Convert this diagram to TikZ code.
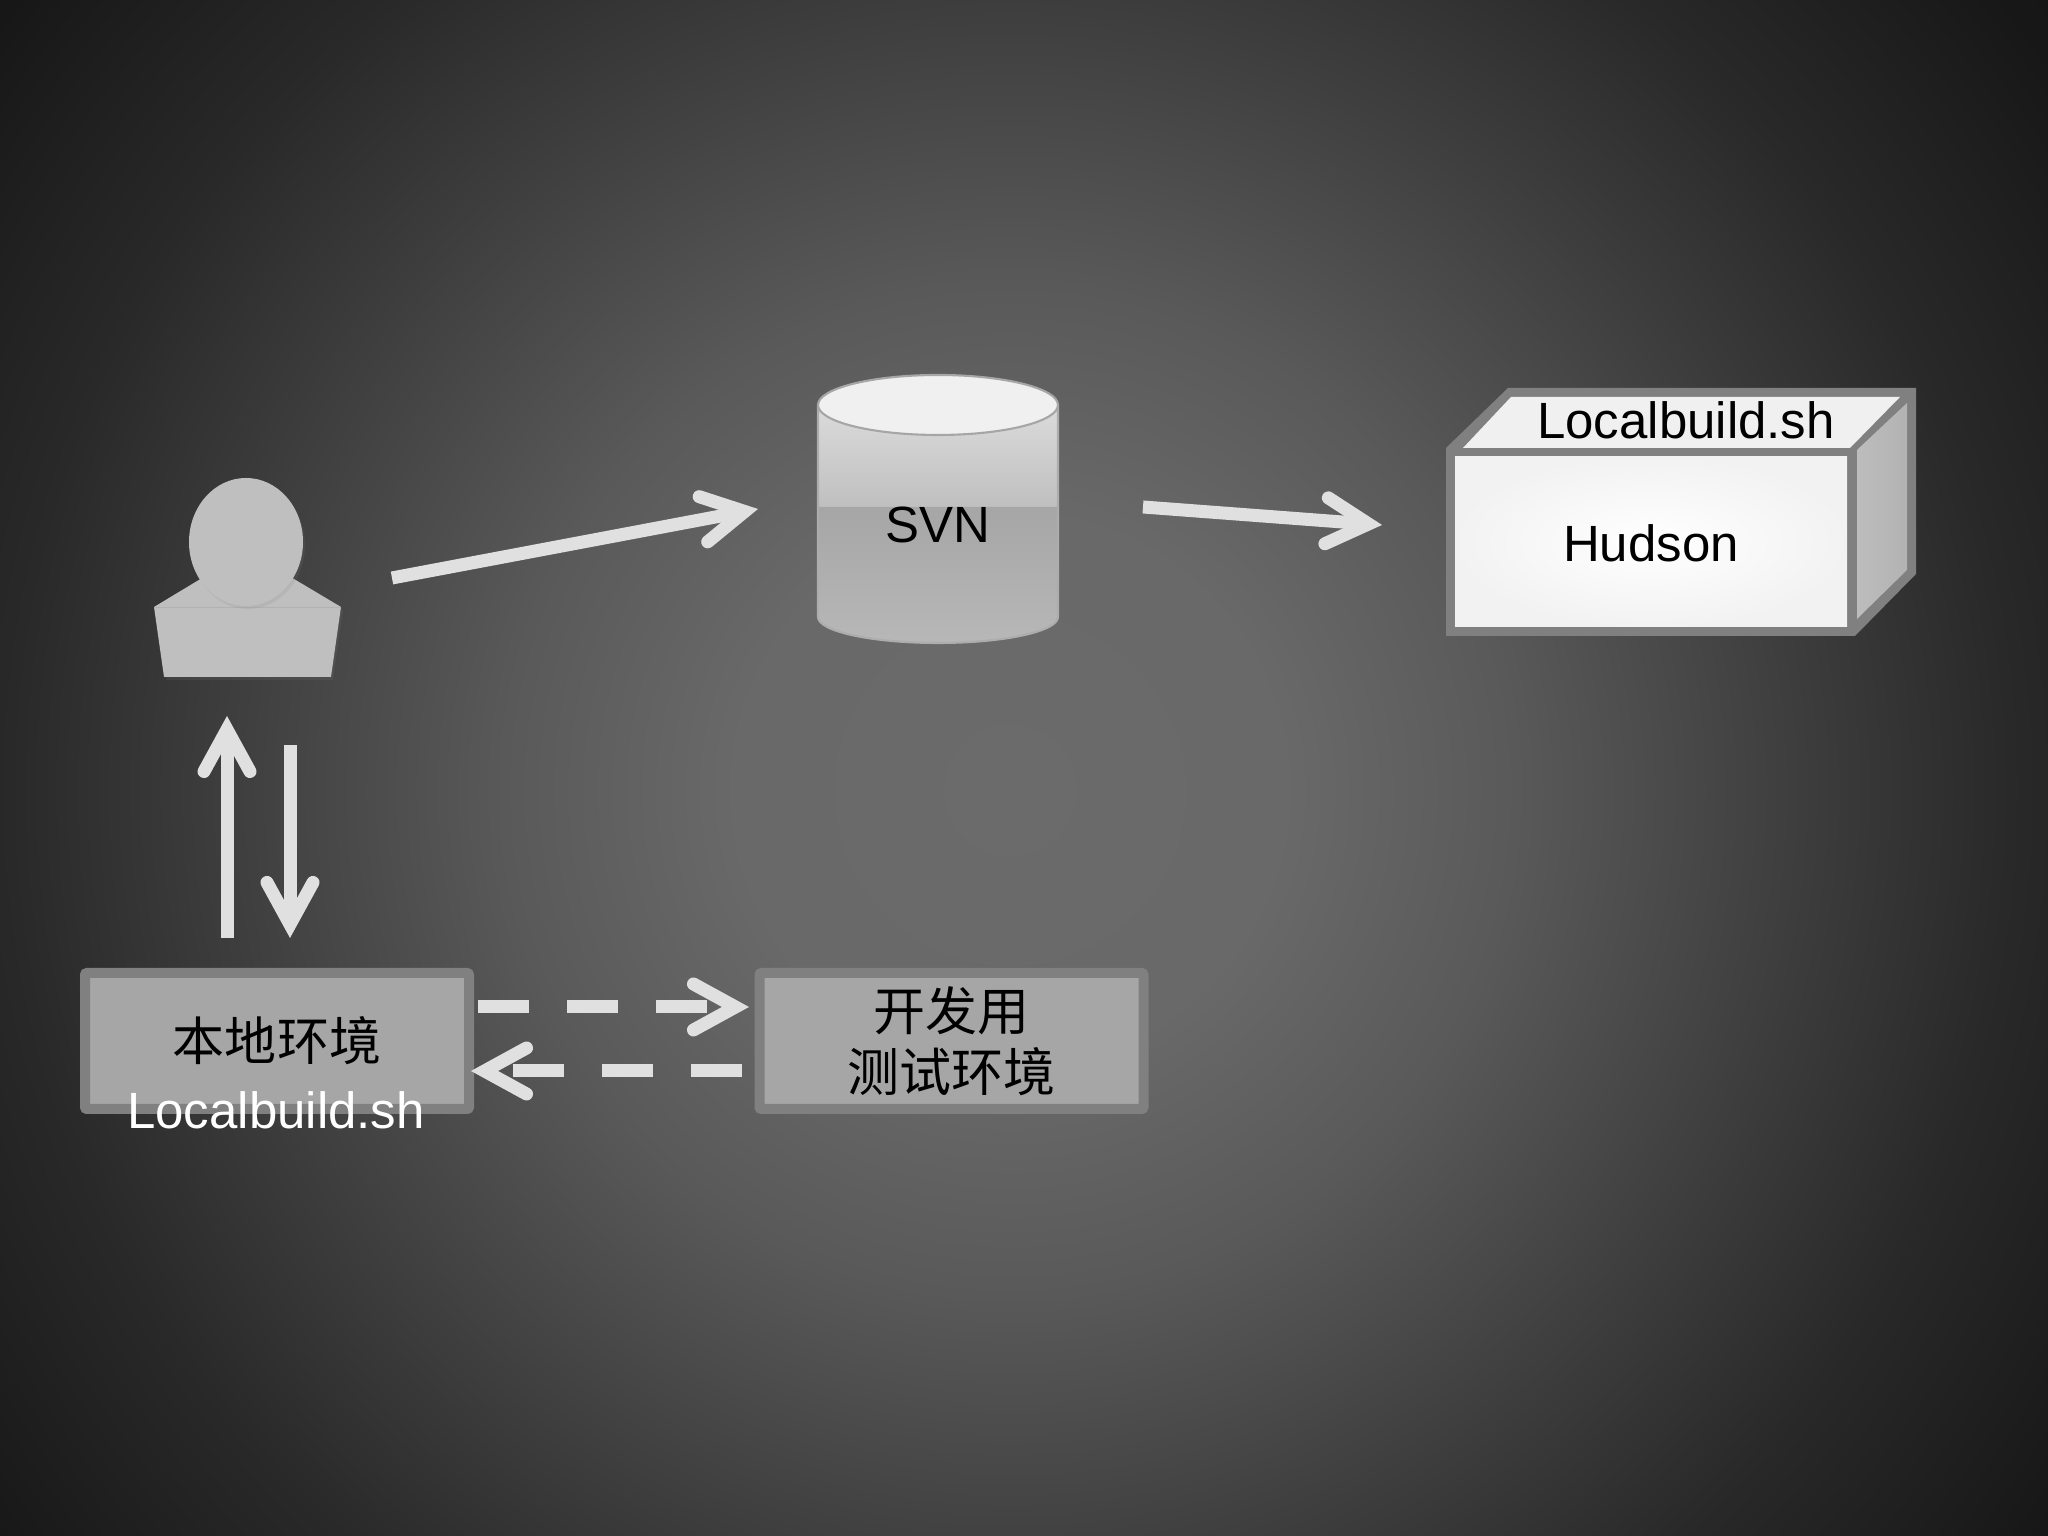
\documentclass[tikz,border=0pt]{standalone}
\usepackage{fontspec}
\setmainfont{Liberation Sans}
\newfontfamily\cjkfont{Noto Sans CJK SC}
\usetikzlibrary{arrows.meta,shadows,shapes.geometric}

\pgfdeclareradialshading{stagebg}{\pgfpoint{0bp}{0bp}}{
  color(0bp)=(black!58); color(5bp)=(black!59); color(9bp)=(black!65); color(14.1bp)=(black!76);
  color(17.9bp)=(black!84); color(22.7bp)=(black!91); color(25bp)=(black!92)}

\begin{document}
\begin{tikzpicture}[
      bigarrow/.style={line width=.13cm,draw=black!12,-{Straight Barb[length=.42cm,width=.46cm,line cap=round]}},
      dasharrow/.style={bigarrow,dash pattern=on .51cm off .38cm},
      boxtext/.style={font=\fontsize{14.5}{17.4}\selectfont,text centered,inner sep=0pt},
      cjktext/.style={font=\fontsize{14.8}{17.4}\selectfont\cjkfont,text centered,inner sep=0pt},
      envbox/.style={draw=black!50,line width=.1cm,fill=black!35,rounded corners=.02cm,
        minimum width=3.84cm,minimum height=1.36cm,align=center,cjktext},
      softshadow/.style={drop shadow={opacity=.15,shadow xshift=.02cm,shadow yshift=-.03cm}}
      ]

      \useasboundingbox (0,0) rectangle (20.48,15.36);
      \clip (0,0) rectangle (20.48,15.36);
      \shade[shading=stagebg] (10.1,7.46) circle (14cm);

      % person
      \draw[fill=black!25,draw=none,softshadow] (1.54,9.29) -- (2.47,9.85) -- (3.41,9.29) -- (3.31,8.59) -- (1.64,8.59) -- cycle;
      \draw[draw=black!30,line width=.2pt] (1.54,9.29) -- (3.41,9.29);
      \node[ellipse,minimum width=1.14cm,minimum height=1.28cm,inner sep=0pt,fill=black!25,softshadow] (user) at (2.46,9.94) {};

      % repository
      \shade[top color=black!14,bottom color=black!25] (8.18,11.31) rectangle (10.58,10.29);
      \shade[top color=black!35,bottom color=black!28] (8.18,10.29) -- (8.18,9.19) arc[x radius=1.2,y radius=.26,start angle=180,end angle=360] -- (10.58,10.29) -- cycle;
      \draw[draw=black!32,line width=.6pt] (8.18,11.31) -- (8.18,9.19) arc[x radius=1.2,y radius=.26,start angle=180,end angle=360] -- (10.58,11.31);
      \draw[draw=black!35,line width=.6pt,fill=black!6] (9.38,11.31) ellipse (1.2cm and .3cm);
      \node[boxtext] (svn) at (9.38,10.11) {SVN};

      % build server
      \fill[black!50] (14.46,10.88) -- (15.08,11.48) -- (19.16,11.48) -- (19.16,9.62) -- (18.55,9.0) -- (14.46,9.0) -- cycle;
      \fill[black!6] (14.63,10.88) -- (15.11,11.39) -- (19.0,11.39) -- (18.5,10.88) -- cycle;
      \shade[left color=black!26,right color=black!30] (18.57,10.86) -- (19.07,11.33) -- (19.07,9.66) -- (18.57,9.17) -- cycle;
      \shade[inner color=white,outer color=black!5] (14.55,10.79) rectangle (18.47,9.09);
      \node[boxtext] (script) at (16.86,11.16) {Localbuild.sh};
      \node[boxtext] (hudson) at (16.51,9.93) {Hudson};

      % environments
      \node[envbox] (localenv) at (2.77,4.95) {本地环境};
      \node[boxtext,text=white] (localscript) at (2.76,4.26) {Localbuild.sh};
      \node[envbox] (testenv) at (9.515,4.95) {开发用\\测试环境};

      \coordinate (userout) at (3.92,9.58);
      \coordinate (svnin) at (7.58,10.27);
      \coordinate (svnout) at (11.43,10.29);
      \coordinate (hudsonin) at (13.82,10.11);
      \coordinate (upfrom) at (2.27,5.98);
      \coordinate (upto) at (2.27,8.2);
      \coordinate (downfrom) at (2.9,7.91);
      \coordinate (downto) at (2.9,5.98);
      \coordinate (devfrom) at (4.78,5.29);
      \coordinate (devto) at (7.49,5.29);
      \coordinate (backfrom) at (7.42,4.65);
      \coordinate (backto) at (4.71,4.65);

      \draw[bigarrow] (userout) -- (svnin);
      \draw[bigarrow] (svnout) -- (hudsonin);
      \draw[bigarrow] (upfrom) -- (upto);
      \draw[bigarrow] (downfrom) -- (downto);
      \draw[dasharrow] (devfrom) -- (devto);
      \draw[dasharrow] (backfrom) -- (backto);

\end{tikzpicture}
\end{document}
